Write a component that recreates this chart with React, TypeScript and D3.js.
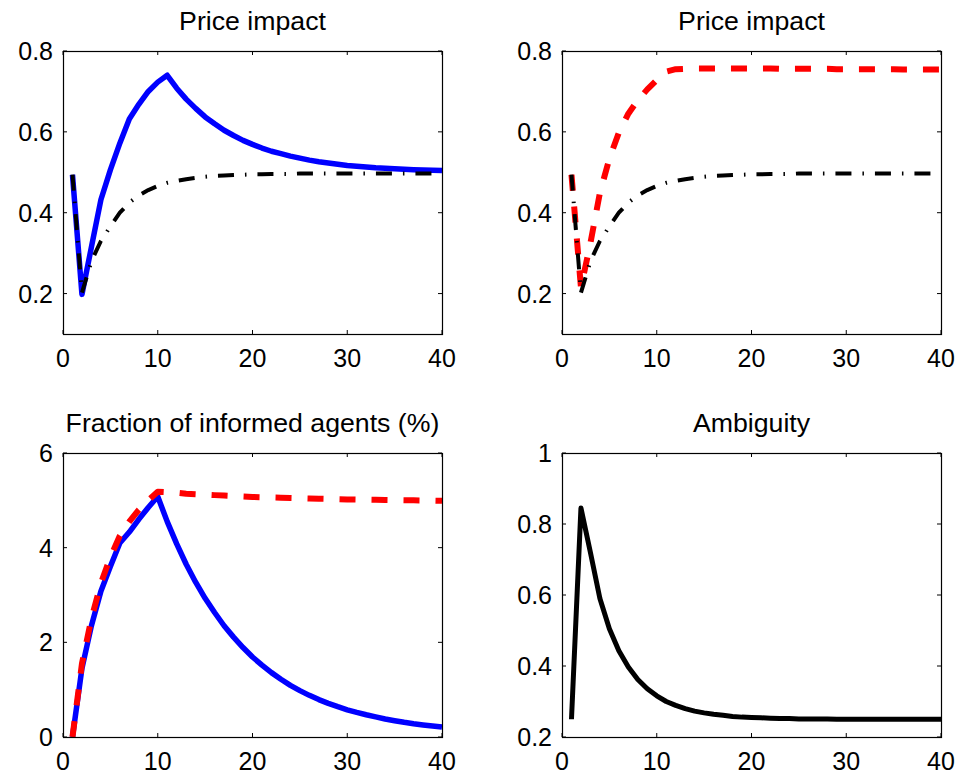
import React from "react";
import * as d3 from "d3";

// ---- data (t = 1..40) ----
const periods = d3.range(1, 41);

const priceImpactAmbiguity = [
  0.494, 0.198, 0.315, 0.432, 0.506, 0.572, 0.632, 0.668, 0.7, 0.723,
  0.74, 0.708, 0.681, 0.658, 0.637, 0.62, 0.604, 0.591, 0.579, 0.569,
  0.56, 0.552, 0.546, 0.54, 0.535, 0.53, 0.526, 0.523, 0.52, 0.517,
  0.515, 0.513, 0.511, 0.51, 0.509, 0.5075, 0.5065, 0.5057, 0.505, 0.5043,
];

const priceImpactBenchmark = [
  0.494, 0.202, 0.28, 0.33, 0.366, 0.4, 0.425, 0.443, 0.456, 0.466,
  0.474, 0.479, 0.483, 0.486, 0.489, 0.491, 0.492, 0.493, 0.494, 0.495,
  0.495, 0.496, 0.496, 0.496, 0.497, 0.497, 0.497, 0.497, 0.497, 0.497,
  0.497, 0.497, 0.497, 0.497, 0.497, 0.497, 0.497, 0.497, 0.497, 0.497,
];

const priceImpactPersistent = [
  0.494, 0.215, 0.325, 0.449, 0.534, 0.598, 0.645, 0.678, 0.705, 0.728,
  0.749, 0.755, 0.756, 0.757, 0.757, 0.757, 0.757, 0.757, 0.757, 0.757,
  0.757, 0.757, 0.756, 0.756, 0.756, 0.756, 0.756, 0.756, 0.755, 0.755,
  0.755, 0.755, 0.755, 0.755, 0.755, 0.754, 0.754, 0.754, 0.754, 0.754,
];

const fractionAmbiguity = [
  0, 1.45, 2.35, 3.08, 3.6, 4.1, 4.33, 4.6, 4.85, 5.08,
  4.55, 4.08, 3.65, 3.27, 2.93, 2.63, 2.35, 2.11, 1.89, 1.69,
  1.52, 1.36, 1.22, 1.09, 0.98, 0.88, 0.79, 0.71, 0.64, 0.575,
  0.52, 0.47, 0.425, 0.38, 0.345, 0.31, 0.28, 0.255, 0.232, 0.21,
];

const fractionPersistent = [
  0, 1.55, 2.5, 3.25, 3.8, 4.25, 4.55, 4.8, 5.0, 5.18,
  5.17, 5.16, 5.14, 5.13, 5.12, 5.11, 5.1, 5.09, 5.08, 5.07,
  5.065, 5.06, 5.055, 5.05, 5.045, 5.04, 5.035, 5.03, 5.025, 5.02,
  5.017, 5.014, 5.011, 5.008, 5.005, 5.002, 5.0, 4.997, 4.994, 4.99,
];

const ambiguity = [
  0.25, 0.845, 0.72, 0.59, 0.505, 0.443, 0.397, 0.362, 0.336, 0.316,
  0.3, 0.289, 0.28, 0.273, 0.268, 0.264, 0.261, 0.258, 0.256, 0.255,
  0.254, 0.253, 0.252, 0.252, 0.251, 0.251, 0.251, 0.251, 0.25, 0.25,
  0.25, 0.25, 0.25, 0.25, 0.25, 0.25, 0.25, 0.25, 0.25, 0.25,
];

const xTicks = [0, 10, 20, 30, 40];
const priceTicks = [0.2, 0.4, 0.6, 0.8];
const fractionTicks = [0, 2, 4, 6];
const ambiguityTicks = [0.2, 0.4, 0.6, 0.8, 1];

const titles = [
  "Price impact",
  "Price impact",
  "Fraction of informed agents (%)",
  "Ambiguity",
];

// ---- styles ----
const FONT = "'Liberation Sans', Arial, Helvetica, sans-serif";
const SOLID = { dash: null, width: 5.5 };
const DASHED = { dash: "16,16", width: 6 };
const DASHDOT = { dash: "16,11,1.5,11", width: 4 };

type Series = { values: number[]; color: string; style: { dash: string | null; width: number } };
type Panel = {
  title: string;
  left: number;
  top: number;
  width: number;
  height: number;
  yDomain: [number, number];
  yTicks: number[];
  series: Series[];
};

const panels: Panel[] = [
  {
    title: titles[0],
    left: 63, top: 51, width: 379, height: 283,
    yDomain: [0.1, 0.8], yTicks: priceTicks,
    series: [
      { values: priceImpactAmbiguity, color: "#0000ff", style: SOLID },
      { values: priceImpactBenchmark, color: "#000000", style: DASHDOT },
    ],
  },
  {
    title: titles[1],
    left: 562, top: 51, width: 379, height: 283,
    yDomain: [0.1, 0.8], yTicks: priceTicks,
    series: [
      { values: priceImpactPersistent, color: "#ff0000", style: DASHED },
      { values: priceImpactBenchmark, color: "#000000", style: DASHDOT },
    ],
  },
  {
    title: titles[2],
    left: 63, top: 453, width: 379, height: 284,
    yDomain: [0, 6], yTicks: fractionTicks,
    series: [
      { values: fractionAmbiguity, color: "#0000ff", style: SOLID },
      { values: fractionPersistent, color: "#ff0000", style: DASHED },
    ],
  },
  {
    title: titles[3],
    left: 562, top: 453, width: 379, height: 284,
    yDomain: [0.2, 1], yTicks: ambiguityTicks,
    series: [{ values: ambiguity, color: "#000000", style: { dash: null, width: 5 } }],
  },
];

function PanelView({ p }: { p: Panel }) {
  const x = d3.scaleLinear().domain([0, 40]).range([p.left, p.left + p.width]);
  const y = d3.scaleLinear().domain(p.yDomain).range([p.top + p.height, p.top]);
  const fmt = (v: number) => String(+v.toFixed(2));
  const tickLen = 4;
  const bottom = p.top + p.height;
  const right = p.left + p.width;
  return (
    <g>
      {p.series.map((s, i) => {
        const line = d3
          .line<number>()
          .x((_, j) => x(periods[j]))
          .y((d) => y(d));
        return (
          <path
            key={i}
            d={line(s.values) || ""}
            fill="none"
            stroke={s.color}
            strokeWidth={s.style.width}
            strokeDasharray={s.style.dash || undefined}
            strokeLinejoin="round"
            strokeLinecap="butt"
          />
        );
      })}
      <rect
        x={p.left + 0.5}
        y={p.top + 0.5}
        width={p.width}
        height={p.height}
        fill="none"
        stroke="#000"
        strokeWidth={1.2}
      />
      {xTicks.map((t) => (
        <g key={"x" + t}>
          <line x1={x(t)} x2={x(t)} y1={bottom} y2={bottom - tickLen} stroke="#000" strokeWidth={1} />
          <line x1={x(t)} x2={x(t)} y1={p.top} y2={p.top + tickLen} stroke="#000" strokeWidth={1} />
          <text x={x(t)} y={bottom + 33} textAnchor="middle" fontSize={25} fontFamily={FONT} fill="#000">
            {t}
          </text>
        </g>
      ))}
      {p.yTicks.map((t) => (
        <g key={"y" + t}>
          <line x1={p.left} x2={p.left + tickLen} y1={y(t)} y2={y(t)} stroke="#000" strokeWidth={1} />
          <line x1={right} x2={right - tickLen} y1={y(t)} y2={y(t)} stroke="#000" strokeWidth={1} />
          <text x={p.left - 10} y={y(t) + 9} textAnchor="end" fontSize={25} fontFamily={FONT} fill="#000">
            {fmt(t)}
          </text>
        </g>
      ))}
      <text
        x={p.left + p.width / 2}
        y={p.top - 21}
        textAnchor="middle"
        fontSize={26.7}
        fontFamily={FONT}
        fill="#000"
      >
        {p.title}
      </text>
    </g>
  );
}

export default function App() {
  return (
    <svg
      width={958}
      height={776}
      style={{ position: "absolute", left: 0, top: 0, background: "#fff" }}
    >
      <rect x={0} y={0} width={958} height={776} fill="#fff" />
      {panels.map((p, i) => (
        <PanelView key={i} p={p} />
      ))}
    </svg>
  );
}
